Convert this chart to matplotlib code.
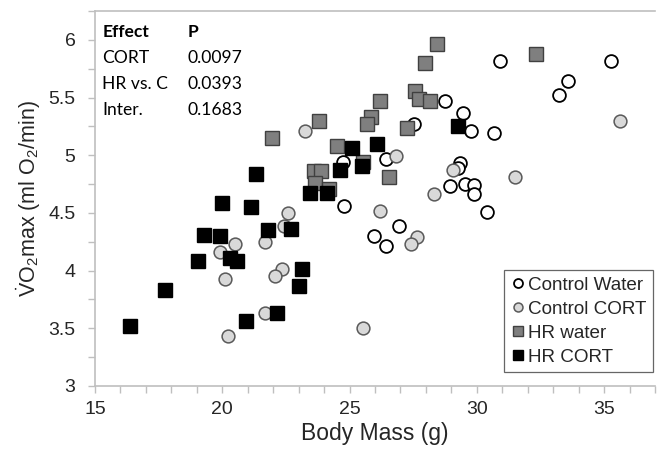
import matplotlib
matplotlib.use("Agg")
import matplotlib.pyplot as plt
from matplotlib.ticker import MultipleLocator

plt.rcParams['font.family'] = ['Liberation Sans', 'DejaVu Sans']
plt.rcParams['mathtext.fontset'] = 'custom'
plt.rcParams['mathtext.rm'] = 'Liberation Sans'
plt.rcParams['mathtext.it'] = 'Liberation Sans:italic'

# Control Water
cw_x = [28.75, 29.45, 27.53, 29.77, 30.66, 24.74, 26.42, 29.32, 29.25, 28.95,
        29.54, 29.90, 29.87, 24.80, 30.40, 26.94, 25.95, 26.44, 30.92, 35.27,
        33.58, 33.23]
cw_y = [5.47, 5.37, 5.27, 5.21, 5.19, 4.94, 4.97, 4.93, 4.89, 4.73,
        4.75, 4.74, 4.66, 4.56, 4.51, 4.39, 4.30, 4.21, 5.82, 5.82,
        5.64, 5.52]
# Control CORT
cc_x = [22.59, 22.41, 20.49, 19.93, 21.68, 20.09, 22.34, 22.09, 21.68, 20.24,
        23.25, 26.82, 29.05, 28.31, 26.18, 27.66, 27.40, 25.54, 35.62, 31.51]
cc_y = [4.50, 4.39, 4.23, 4.16, 4.25, 3.93, 4.01, 3.95, 3.63, 3.43,
        5.21, 4.99, 4.87, 4.66, 4.52, 4.29, 4.23, 3.50, 5.30, 4.81]
# HR water
hw_x = [21.95, 28.45, 27.96, 27.59, 27.73, 28.16, 26.18, 25.86, 25.70, 27.25,
        23.79, 24.50, 25.53, 26.55, 23.62, 23.86, 23.65, 24.19, 32.34]
hw_y = [5.15, 5.96, 5.80, 5.56, 5.49, 5.47, 5.47, 5.33, 5.27, 5.24,
        5.30, 5.08, 4.94, 4.81, 4.86, 4.86, 4.76, 4.71, 5.88]
# HR CORT
hc_x = [21.34, 19.97, 21.12, 21.78, 22.70, 19.29, 19.93, 20.30, 20.59, 19.04,
        23.15, 23.03, 17.74, 16.38, 22.15, 20.95, 29.25, 25.11, 26.09, 25.50,
        24.64, 23.45, 24.11]
hc_y = [4.84, 4.59, 4.55, 4.35, 4.36, 4.31, 4.30, 4.11, 4.08, 4.08,
        4.01, 3.87, 3.83, 3.52, 3.63, 3.56, 5.25, 5.06, 5.10, 4.91,
        4.87, 4.67, 4.67]

effects = ["CORT", "HR vs. C", "Inter."]
pvals = ["0.0097", "0.0393", "0.1683"]

fig = plt.figure(figsize=(6.61, 4.50), dpi=100)
ax = fig.add_axes([95/661, 1-386/450, 560/661, 375/450])

ax.plot(cw_x, cw_y, 'o', ms=9.2, mfc='white', mec='black', mew=1.3, ls='none', label='Control Water')
ax.plot(cc_x, cc_y, 'o', ms=9.2, mfc='#d9d9d9', mec='#595959', mew=1.1, ls='none', label='Control CORT')
ax.plot(hw_x, hw_y, 's', ms=9.6, mfc='#7f7f7f', mec='#404040', mew=1.0, ls='none', label='HR water')
ax.plot(hc_x, hc_y, 's', ms=9.6, mfc='black', mec='black', mew=1.0, ls='none', label='HR CORT')

ax.set_xlim(15, 37)
ax.set_ylim(3, 6.25)
ax.xaxis.set_major_locator(MultipleLocator(5))
ax.xaxis.set_minor_locator(MultipleLocator(1))
ax.yaxis.set_minor_locator(MultipleLocator(0.25))
ax.set_yticks([3, 3.5, 4, 4.5, 5, 5.5, 6])
ax.set_yticklabels(['3', '3.5', '4', '4.5', '5', '5.5', '6'])

for s in ['left', 'bottom', 'top']:
    ax.spines[s].set_color('#bfbfbf')
    ax.spines[s].set_linewidth(1.2)
ax.spines['right'].set_visible(False)
ax.tick_params(which='both', direction='out', color='#bfbfbf', width=1.0, length=5,
               labelsize=14, labelcolor='#262626')
ax.tick_params(axis='x', which='both', pad=6)
ax.tick_params(axis='y', which='both', pad=9)

ax.set_xlabel('Body Mass (g)', fontsize=16.5, color='#262626', labelpad=3)
ax.set_ylabel(r'$\dot{\mathrm{V}}\mathrm{O_2max\ (ml\ O_2/min)}$', fontsize=15.5,
              color='#262626', labelpad=4)

leg = ax.legend(loc='lower right', bbox_to_anchor=(0.997, 0.037), borderaxespad=0,
                fontsize=13.6, frameon=True, fancybox=False, markerscale=0.7,
                handlelength=0.8, handletextpad=0.15, labelspacing=0.35,
                borderpad=0.35)
leg.get_frame().set_edgecolor('#404040')
leg.get_frame().set_linewidth(0.9)
for t in leg.get_texts():
    t.set_color('#262626')

tf = ['Lato', 'DejaVu Sans']
fs = 12.6
ax.text(0.013, 0.93, 'Effect', transform=ax.transAxes, fontsize=fs, fontweight='bold', family=tf)
ax.text(0.165, 0.93, 'P', transform=ax.transAxes, fontsize=fs, fontweight='bold', family=tf)
for i, (e, p) in enumerate(zip(effects, pvals)):
    yy = 0.93 - 0.069 * (i + 1)
    ax.text(0.013, yy, e, transform=ax.transAxes, fontsize=fs, family=tf)
    ax.text(0.165, yy, p, transform=ax.transAxes, fontsize=fs, family=tf)

fig.savefig('out.png', dpi=100)
